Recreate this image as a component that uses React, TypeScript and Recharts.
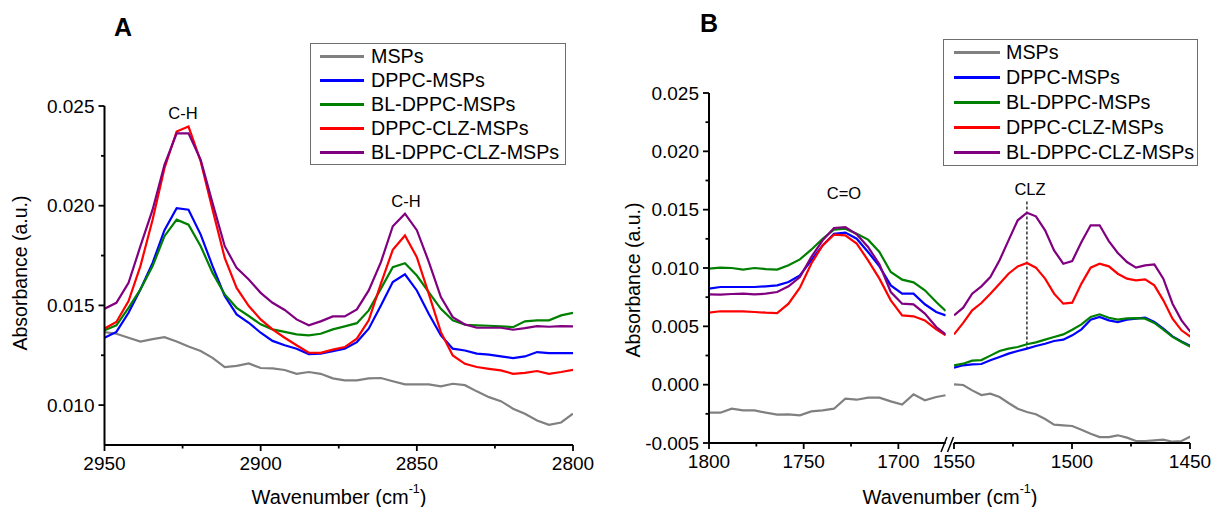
import React from "react";
import { LineChart, Line, XAxis, YAxis, Legend, ReferenceLine } from "recharts";

const FONT = '"Liberation Sans", Arial, Helvetica, sans-serif';

// Panel A: 2950-2800 cm-1 (C-H stretching)
const wnA = [
  2950.0, 2946.2, 2942.3, 2938.5, 2934.6, 2930.8, 2926.9, 2923.1, 2919.2, 2915.4,
  2911.5, 2907.7, 2903.8, 2900.0, 2896.2, 2892.3, 2888.5, 2884.6, 2880.8, 2876.9,
  2873.1, 2869.2, 2865.4, 2861.5, 2857.7, 2853.8, 2850.0, 2846.2, 2842.3, 2838.5,
  2834.6, 2830.8, 2826.9, 2823.1, 2819.2, 2815.4, 2811.5, 2807.7, 2803.8, 2800.0,
];
const mspsA = [
  0.01366, 0.01358, 0.01338, 0.01319, 0.01331, 0.01341, 0.01319, 0.01294, 0.01271, 0.01237,
  0.01191, 0.01197, 0.01209, 0.01186, 0.01184, 0.01176, 0.01157, 0.01166, 0.01157, 0.01134,
  0.01124, 0.01124, 0.01134, 0.01136, 0.0112, 0.01104, 0.01104, 0.01104, 0.01094, 0.01107,
  0.011, 0.01069, 0.0104, 0.0102, 0.00982, 0.00957, 0.00923, 0.00901, 0.00913, 0.00957,
];
const dppcA = [
  0.01338, 0.01367, 0.01463, 0.0158, 0.01713, 0.01877, 0.01988, 0.0198, 0.01855, 0.01697,
  0.01547, 0.01455, 0.01413, 0.01363, 0.01322, 0.013, 0.01283, 0.01256, 0.01258, 0.01271,
  0.01283, 0.01316, 0.01383, 0.015, 0.01617, 0.01656, 0.01575, 0.01458, 0.0135, 0.01283,
  0.01274, 0.01258, 0.01253, 0.01244, 0.01236, 0.01244, 0.01266, 0.01261, 0.01261, 0.01261,
];
const blDppcA = [
  0.01375, 0.014, 0.01488, 0.0158, 0.01697, 0.01847, 0.0193, 0.01905, 0.01797, 0.01663,
  0.01555, 0.01488, 0.01447, 0.01405, 0.0138, 0.01367, 0.01355, 0.0135, 0.01358, 0.0138,
  0.01395, 0.01411, 0.01475, 0.01584, 0.01692, 0.01712, 0.0165, 0.01567, 0.01483, 0.01425,
  0.01403, 0.014, 0.01398, 0.01395, 0.01391, 0.0142, 0.01425, 0.01425, 0.0145, 0.01463,
];
const dppcClzA = [
  0.01384, 0.01417, 0.01522, 0.01697, 0.0193, 0.02188, 0.02372, 0.02397, 0.02222, 0.0198,
  0.01738, 0.01588, 0.01497, 0.0143, 0.0138, 0.01338, 0.013, 0.01263, 0.01262, 0.01278,
  0.01291, 0.01333, 0.01425, 0.01609, 0.01779, 0.01851, 0.01742, 0.01559, 0.01366, 0.01249,
  0.01207, 0.01191, 0.01182, 0.01174, 0.01157, 0.01162, 0.01171, 0.01157, 0.01166, 0.01177,
];
const blDppcClzA = [
  0.01483, 0.01513, 0.01613, 0.01797, 0.0198, 0.02205, 0.02363, 0.02363, 0.0223, 0.02013,
  0.01797, 0.01688, 0.0163, 0.01563, 0.01513, 0.01477, 0.0143, 0.014, 0.0142, 0.01445,
  0.01445, 0.0148, 0.01575, 0.01717, 0.01897, 0.0196, 0.01877, 0.0172, 0.01542, 0.01441,
  0.01405, 0.01388, 0.01388, 0.01388, 0.01378, 0.01386, 0.01396, 0.01393, 0.01396, 0.01395,
];

// Panel B, left of the break: 1800-1675 cm-1 (C=O)
const wnB1 = [
  1800, 1794, 1788, 1782, 1776, 1770, 1764, 1758, 1752, 1746, 1740,
  1734, 1728, 1722, 1716, 1710, 1704, 1698, 1692, 1686, 1680, 1675,
];
const mspsB1 = [
  -0.0024, -0.0024, -0.00206, -0.0022, -0.0022, -0.0024, -0.00257, -0.00254, -0.00263, -0.00229, -0.0022,
  -0.00206, -0.0012, -0.00129, -0.00111, -0.00111, -0.00143, -0.00171, -0.00083, -0.00134, -0.00106, -0.00091,
];
const dppcB1 = [
  0.00823, 0.00837, 0.00837, 0.00837, 0.00837, 0.00843, 0.00851, 0.0088, 0.00937, 0.01066, 0.01194,
  0.01294, 0.01303, 0.01251, 0.01137, 0.01014, 0.00851, 0.0078, 0.0078, 0.00689, 0.00623, 0.00594,
];
const blDppcB1 = [
  0.00994, 0.01003, 0.01, 0.00986, 0.01, 0.00991, 0.00986, 0.01023, 0.01074, 0.01157, 0.01251,
  0.01329, 0.01337, 0.01294, 0.01243, 0.01137, 0.00966, 0.009, 0.00877, 0.00809, 0.00709, 0.00631,
];
const dppcClzB1 = [
  0.00617, 0.00629, 0.00629, 0.00629, 0.00623, 0.00617, 0.00614, 0.00694, 0.00831, 0.01037, 0.01194,
  0.01286, 0.0128, 0.01209, 0.01066, 0.00909, 0.00723, 0.00594, 0.00586, 0.00551, 0.00474, 0.00423,
];
const blDppcClzB1 = [
  0.00774, 0.00771, 0.00777, 0.0078, 0.00774, 0.0078, 0.00794, 0.00843, 0.00923, 0.01094, 0.01237,
  0.01343, 0.01351, 0.01289, 0.0118, 0.01031, 0.00794, 0.00694, 0.00689, 0.00609, 0.00494, 0.00431,
];

// Panel B, right of the break: 1550-1450 cm-1 (CLZ)
const wnB2 = [
  1550.0, 1546.1, 1542.3, 1538.4, 1534.6, 1530.7, 1526.9, 1523.0, 1519.1, 1515.3,
  1511.4, 1507.6, 1503.7, 1499.9, 1496.0, 1492.1, 1488.3, 1484.4, 1480.6, 1476.7,
  1472.9, 1469.0, 1465.1, 1461.3, 1457.4, 1453.6, 1449.7,
];
const mspsB2 = [
  0.00003, -0.00003, -0.00049, -0.00089, -0.00077, -0.00106, -0.00157, -0.00206, -0.00234, -0.00254,
  -0.00294, -0.00343, -0.00349, -0.00354, -0.00386, -0.0042, -0.00449, -0.00449, -0.00434, -0.00454,
  -0.00483, -0.00483, -0.00477, -0.00471, -0.00489, -0.00483, -0.00443,
];
const dppcB2 = [
  0.00146, 0.00166, 0.00174, 0.00177, 0.00209, 0.00237, 0.00266, 0.00289, 0.00309, 0.00331,
  0.00351, 0.00374, 0.00386, 0.00423, 0.00474, 0.00557, 0.0058, 0.00551, 0.00537, 0.00557,
  0.00566, 0.00574, 0.00537, 0.0048, 0.00414, 0.00371, 0.00331,
];
const blDppcB2 = [
  0.00166, 0.0018, 0.00206, 0.00211, 0.00249, 0.00289, 0.00309, 0.00323, 0.00346, 0.00363,
  0.00386, 0.00409, 0.00431, 0.00471, 0.00517, 0.0058, 0.00603, 0.00574, 0.00557, 0.00569,
  0.00571, 0.00566, 0.00529, 0.00471, 0.00409, 0.00366, 0.00323,
];
const dppcClzB2 = [
  0.00431, 0.00529, 0.00637, 0.007, 0.0078, 0.00866, 0.00951, 0.01014, 0.01043, 0.01003,
  0.00909, 0.0078, 0.00694, 0.00703, 0.00866, 0.01003, 0.01037, 0.01014, 0.00951, 0.00909,
  0.00894, 0.00903, 0.00851, 0.00723, 0.00566, 0.00466, 0.00409,
];
const blDppcClzB2 = [
  0.00594, 0.0066, 0.0078, 0.00843, 0.00923, 0.01066, 0.01237, 0.01409, 0.01474, 0.01443,
  0.01323, 0.01151, 0.01037, 0.0106, 0.01223, 0.01366, 0.01366, 0.01231, 0.01129, 0.01051,
  0.01003, 0.01023, 0.01031, 0.00909, 0.00694, 0.00551, 0.00451,
];

const SERIES = [
  { key: "msps", name: "MSPs", color: "#808080" },
  { key: "dppc", name: "DPPC-MSPs", color: "#0000ff" },
  { key: "blDppc", name: "BL-DPPC-MSPs", color: "#008000" },
  { key: "dppcClz", name: "DPPC-CLZ-MSPs", color: "#ff0000" },
  { key: "blDppcClz", name: "BL-DPPC-CLZ-MSPs", color: "#800080" },
];
const NAMES = SERIES.map((s) => s.name);

const build = (wn: number[], cols: number[][]) =>
  wn.map((w, i) => {
    const row: any = { wn: w };
    SERIES.forEach((s, j) => (row[s.key] = cols[j][i]));
    return row;
  });

const dataA = build(wnA, [mspsA, dppcA, blDppcA, dppcClzA, blDppcClzA]);
const dataB1 = build(wnB1, [mspsB1, dppcB1, blDppcB1, dppcClzB1, blDppcClzB1]);
const dataB2 = build(wnB2, [mspsB2, dppcB2, blDppcB2, dppcClzB2, blDppcClzB2]);

const yTicksA = [0.01, 0.0125, 0.015, 0.0175, 0.02, 0.0225, 0.025];
const yTicksB = [-0.005, -0.0025, 0, 0.0025, 0.005, 0.0075, 0.01, 0.0125, 0.015, 0.0175, 0.02, 0.0225, 0.025];
const xTicksA = [2950, 2925, 2900, 2875, 2850, 2825, 2800];
const xTicksB1 = [1800, 1775, 1750, 1725, 1700];
const xTicksB2 = [1550, 1525, 1500, 1475, 1450];

const YTick = (props: any) => {
  const { x, y, payload } = props;
  const v = payload.value;
  const major = Math.abs(v * 200 - Math.round(v * 200)) < 1e-6;
  return (
    <g>
      <line x1={x - (major ? 6 : 3.5)} x2={x} y1={y} y2={y} stroke="#000" strokeWidth={1.8} />
      {major && (
        <text x={x - 10} y={y} textAnchor="end" dominantBaseline="central" fontSize={19} fontFamily={FONT} fill="#000">
          {v.toFixed(3)}
        </text>
      )}
    </g>
  );
};

const XTick = (props: any) => {
  const { x, y, payload } = props;
  const major = payload.value % 50 === 0;
  return (
    <g>
      <line x1={x} x2={x} y1={y} y2={y + (major ? 6 : 3.5)} stroke="#000" strokeWidth={1.8} />
      {major && (
        <text x={x} y={y + 18} textAnchor="middle" dominantBaseline="central" fontSize={19} fontFamily={FONT} fill="#000">
          {payload.value}
        </text>
      )}
    </g>
  );
};

const makeLegend = (lineX: number, lineW: number, textX: number, rowH: number) => (props: any) => {
  const items = [...(props.payload || [])].sort((a: any, b: any) => NAMES.indexOf(a.value) - NAMES.indexOf(b.value));
  return (
    <div style={{ border: "1px solid #6e6e6e", background: "#fff", fontFamily: FONT, fontSize: 19.7 }}>
      {items.map((p: any) => (
        <div key={p.value} style={{ position: "relative", height: rowH, lineHeight: rowH + "px" }}>
          <div style={{ position: "absolute", left: lineX, top: rowH / 2 - 1.5, width: lineW, height: 3, background: p.color }} />
          <span style={{ position: "absolute", left: textX, top: 0, color: "#000", whiteSpace: "nowrap" }}>{p.value}</span>
        </div>
      ))}
    </div>
  );
};

const lines = () =>
  SERIES.map((s) => (
    <Line
      key={s.key}
      type="linear"
      dataKey={s.key}
      name={s.name}
      stroke={s.color}
      strokeWidth={2.2}
      dot={false}
      activeDot={false}
      isAnimationActive={false}
    />
  ));

const axisLine = { stroke: "#000", strokeWidth: 2 };

export default function App() {
  return (
    <div style={{ position: "absolute", left: 0, top: 0, width: 1213, height: 507, background: "#fff", overflow: "hidden" }}>
      {/* Panel A */}
      <div style={{ position: "absolute", left: 0, top: 0 }}>
        <LineChart width={600} height={507} data={dataA} margin={{ top: 106, right: 27, bottom: 32, left: 44.5 }}>
          <XAxis
            dataKey="wn"
            type="number"
            domain={[2800, 2950]}
            reversed
            ticks={xTicksA}
            interval={0}
            tick={<XTick />}
            tickLine={false}
            tickSize={0}
            tickMargin={0}
            axisLine={axisLine}
            height={30}
            allowDataOverflow
          />
          <YAxis
            type="number"
            domain={[0.008, 0.025]}
            ticks={yTicksA}
            interval={0}
            tick={<YTick />}
            tickLine={false}
            tickSize={0}
            tickMargin={0}
            axisLine={axisLine}
            width={60}
            allowDataOverflow
          />
          {lines()}
          <Legend
            layout="horizontal"
            verticalAlign="middle"
            align="center"
            content={makeLegend(9, 44, 60, 24)}
            wrapperStyle={{ left: 310, top: 43, width: 256, height: "auto" }}
          />
        </LineChart>
      </div>

      {/* Panel B, left segment */}
      <div style={{ position: "absolute", left: 600, top: 0 }}>
        <LineChart width={350} height={507} data={dataB1} margin={{ top: 93, right: 4.3, bottom: 34, left: 49 }}>
          <XAxis
            dataKey="wn"
            type="number"
            domain={[1675, 1800]}
            reversed
            ticks={xTicksB1}
            interval={0}
            tick={<XTick />}
            tickLine={false}
            tickSize={0}
            tickMargin={0}
            axisLine={axisLine}
            height={30}
            allowDataOverflow
          />
          <YAxis
            type="number"
            domain={[-0.005, 0.025]}
            ticks={yTicksB}
            interval={0}
            tick={<YTick />}
            tickLine={false}
            tickSize={0}
            tickMargin={0}
            axisLine={axisLine}
            width={60}
            allowDataOverflow
          />
          {lines()}
        </LineChart>
      </div>

      {/* Panel B, right segment */}
      <div style={{ position: "absolute", left: 920, top: 0 }}>
        <LineChart width={293} height={507} data={dataB2} margin={{ top: 93, right: 23, bottom: 34, left: 34 }}>
          <XAxis
            dataKey="wn"
            type="number"
            domain={[1450, 1550]}
            reversed
            ticks={xTicksB2}
            interval={0}
            tick={<XTick />}
            tickLine={false}
            tickSize={0}
            tickMargin={0}
            axisLine={axisLine}
            height={30}
            allowDataOverflow
          />
          <YAxis hide type="number" domain={[-0.005, 0.025]} allowDataOverflow />
          <ReferenceLine
            segment={[
              { x: 1519.1, y: 0.0157 },
              { x: 1519.1, y: 0.0031 },
            ]}
            stroke="#000"
            strokeWidth={1.2}
            strokeDasharray="3 2"
          />
          {lines()}
          <Legend
            layout="horizontal"
            verticalAlign="middle"
            align="center"
            content={makeLegend(10, 46, 62, 25)}
            wrapperStyle={{ left: 23, top: 39, width: 255, height: "auto" }}
          />
        </LineChart>
      </div>

      {/* titles, labels, axis break */}
      <svg width={1213} height={507} style={{ position: "absolute", left: 0, top: 0, pointerEvents: "none" }}>
        <g fontFamily={FONT} fill="#000">
          <text x={114} y={36} fontSize={25} fontWeight="bold">A</text>
          <text x={700} y={32} fontSize={25} fontWeight="bold">B</text>

          <text x={183} y={113} fontSize={16.5} textAnchor="middle" dominantBaseline="central">C-H</text>
          <text x={406} y={201} fontSize={16.5} textAnchor="middle" dominantBaseline="central">C-H</text>
          <text x={844} y={193} fontSize={16.5} textAnchor="middle" dominantBaseline="central">C=O</text>
          <text x={1030} y={188.5} fontSize={16.5} textAnchor="middle" dominantBaseline="central">CLZ</text>

          <text x={339} y={497} fontSize={20} textAnchor="middle" dominantBaseline="central">
            Wavenumber (cm<tspan fontSize={12.5} dy={-8}>-1</tspan><tspan dy={8}>)</tspan>
          </text>
          <text x={950} y={497} fontSize={20} textAnchor="middle" dominantBaseline="central">
            Wavenumber (cm<tspan fontSize={12.5} dy={-8}>-1</tspan><tspan dy={8}>)</tspan>
          </text>
          <text x={20} y={273} fontSize={19.5} textAnchor="middle" dominantBaseline="central" transform="rotate(-90 20 273)">
            Absorbance (a.u.)
          </text>
          <text x={633} y={280} fontSize={19.5} textAnchor="middle" dominantBaseline="central" transform="rotate(-90 633 280)">
            Absorbance (a.u.)
          </text>
        </g>
        <rect x={946.5} y={437} width={6} height={12} fill="#fff" />
        <line x1={941} y1={452} x2={947} y2={437} stroke="#000" strokeWidth={1.5} />
        <line x1={947.5} y1={452} x2={953.5} y2={437} stroke="#000" strokeWidth={1.5} />
      </svg>
    </div>
  );
}
